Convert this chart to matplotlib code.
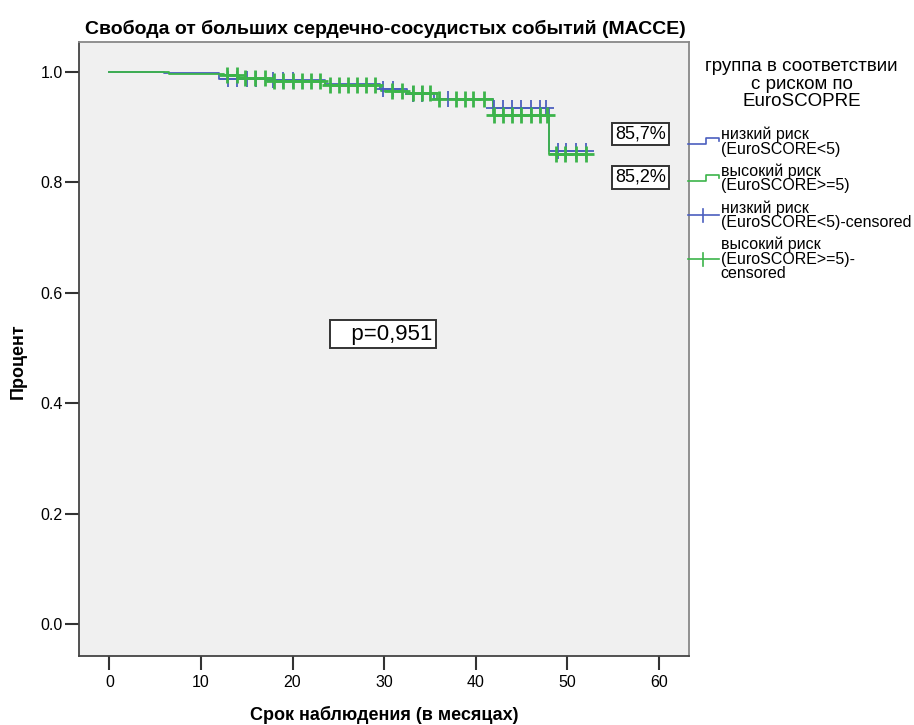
import numpy as np
import matplotlib.pyplot as plt
from matplotlib.lines import Line2D
from matplotlib.legend_handler import HandlerBase

plt.rcParams['font.family'] = ['Liberation Sans', 'DejaVu Sans']

# Kaplan-Meier steps, low risk group (EuroSCORE<5)
low_t = [0, 6.0, 12.0, 17.5, 23.5, 29.5, 32.5, 35.5, 41.9, 48.0, 52.2]
low_s = [1.0, 0.998, 0.987, 0.985, 0.978, 0.969, 0.959, 0.951, 0.934, 0.857, 0.857]
low_cens = [12.9, 13.9, 15.0, 16.0, 17.9, 19.0, 20.0, 29.9, 31.0, 33.2, 34.1,
            37.0, 42.0, 43.0, 44.0, 45.0, 46.0, 47.0, 47.7, 49.0, 49.9, 51.0, 52.0]

# high risk group (EuroSCORE>=5)
high_t = [0, 6.5, 12.5, 14.2, 17.5, 23.5, 29.7, 32.5, 35.8, 41.9, 48.0, 52.2]
high_s = [1.0, 0.996, 0.994, 0.989, 0.984, 0.9765, 0.966, 0.961, 0.951, 0.922, 0.852, 0.852]
high_cens = [12.8, 13.9, 14.8, 15.9, 17.0, 18.0, 19.0, 20.0, 21.0, 22.0, 23.0,
             24.1, 25.1, 26.1, 27.0, 28.0, 29.0, 30.9, 31.9, 33.2, 34.1, 35.0,
             36.0, 37.9, 38.8, 39.7, 40.9, 42.0, 43.0, 44.0, 45.0, 46.0, 47.0,
             47.8, 48.8, 49.8, 51.0, 52.0]

labels = ['низкий риск\n(EuroSCORE<5)',
          'высокий риск\n(EuroSCORE>=5)',
          'низкий риск\n(EuroSCORE<5)-censored',
          'высокий риск\n(EuroSCORE>=5)-\ncensored']
blue = '#4b5fbf'
green = '#3cb44a'


def surv_at(times, surv, x):
    idx = np.searchsorted(times, x, side='right') - 1
    return np.array(surv)[idx]


class StepHandler(HandlerBase):
    def create_artists(self, legend, orig_handle, xdescent, ydescent,
                       width, height, fontsize, trans):
        w, h = width, height
        xs = np.array([0, 0.6 * w, 0.6 * w, w, w]) - xdescent
        ys = np.array([0.3 * h, 0.3 * h, 0.85 * h, 0.85 * h, 0.6 * h]) - ydescent
        ln = Line2D(xs, ys, color=orig_handle.get_color(), lw=1.2, transform=trans)
        return [ln]


class CensHandler(HandlerBase):
    def create_artists(self, legend, orig_handle, xdescent, ydescent,
                       width, height, fontsize, trans):
        w, h = width, height
        ln = Line2D(np.array([0, w]) - xdescent, np.array([0.5 * h, 0.5 * h]) - ydescent,
                    color=orig_handle.get_color(), lw=1.2, transform=trans)
        tk = Line2D(np.array([0.5 * w, 0.5 * w]) - xdescent, np.array([-0.1 * h, 1.1 * h]) - ydescent,
                    color=orig_handle.get_color(), lw=1.2, transform=trans)
        return [ln, tk]


fig = plt.figure(figsize=(9.14, 7.25), dpi=100)
ax = fig.add_axes([0.0864, 0.0952, 0.6674, 0.8468])
ax.set_facecolor('#f0f0f0')

ax.step(low_t, low_s, where='post', color=blue, lw=1.3)
ax.step(high_t, high_s, where='post', color=green, lw=1.3)
ax.plot(low_cens, surv_at(low_t, low_s, low_cens), ls='none', marker='+',
        ms=11, mew=1.3, color=blue)
ax.plot(high_cens, surv_at(high_t, high_s, high_cens), ls='none', marker='+',
        ms=11, mew=2.0, color=green)

ax.set_xlim(-3.33, 63.3)
ax.set_ylim(-0.058, 1.054)
ax.set_xticks(range(0, 61, 10))
ax.set_yticks(np.arange(0, 1.01, 0.2))
ax.set_yticklabels([f'{v:.1f}' for v in np.arange(0, 1.01, 0.2)])
ax.tick_params(direction='out', length=10, width=1.5, labelsize=11.5, color='#333333')
ax.tick_params(axis='x', pad=3.5)
ax.tick_params(axis='y', pad=1.5)
for s in ax.spines.values():
    s.set_color('#444444')
    s.set_linewidth(1.3)
ax.spines['right'].set_color('#888888')
ax.spines['top'].set_color('#888888')

ax.set_title('Свобода от больших сердечно-сосудистых событий (МАССЕ)',
             fontsize=14.0, fontweight='bold', pad=6, loc='left', x=0.01)
ax.set_xlabel('Срок наблюдения (в месяцах)', fontsize=13, fontweight='bold')
ax.set_ylabel('Процент', fontsize=13, fontweight='bold')
ax.xaxis.set_label_coords(0.5, -0.082)
ax.yaxis.set_label_coords(-0.085, 0.48)

box = dict(boxstyle='square,pad=0.15', fc='white', ec='#333333', lw=1.4)
ax.text(58.0, 0.887, '85,7%', fontsize=13, ha='center', va='center', bbox=box)
ax.text(58.0, 0.809, '85,2%', fontsize=13, ha='center', va='center', bbox=box)
ax.text(35.3, 0.525, '   p=0,951', fontsize=16, ha='right', va='center', bbox=box)

fig.text(0.877, 0.920, 'группа в соответствии\nс риском по\nEuroSCOPRE',
         fontsize=13.5, ha='center', va='top', multialignment='center',
         linespacing=1.05)

h1 = Line2D([], [], color=blue)
h2 = Line2D([], [], color=green)
h3 = Line2D([], [], color=blue)
h4 = Line2D([], [], color=green)
leg = fig.legend([h1, h2, h3, h4], labels,
                 handler_map={h1: StepHandler(), h2: StepHandler(),
                              h3: CensHandler(), h4: CensHandler()},
                 loc='upper left', bbox_to_anchor=(0.753, 0.825), frameon=False,
                 fontsize=11.5, handlelength=1.9, handletextpad=0.12,
                 labelspacing=0.42, borderaxespad=0, borderpad=0)
for t in leg.get_texts():
    t.set_linespacing(0.95)

fig.savefig('out.png', dpi=100)
